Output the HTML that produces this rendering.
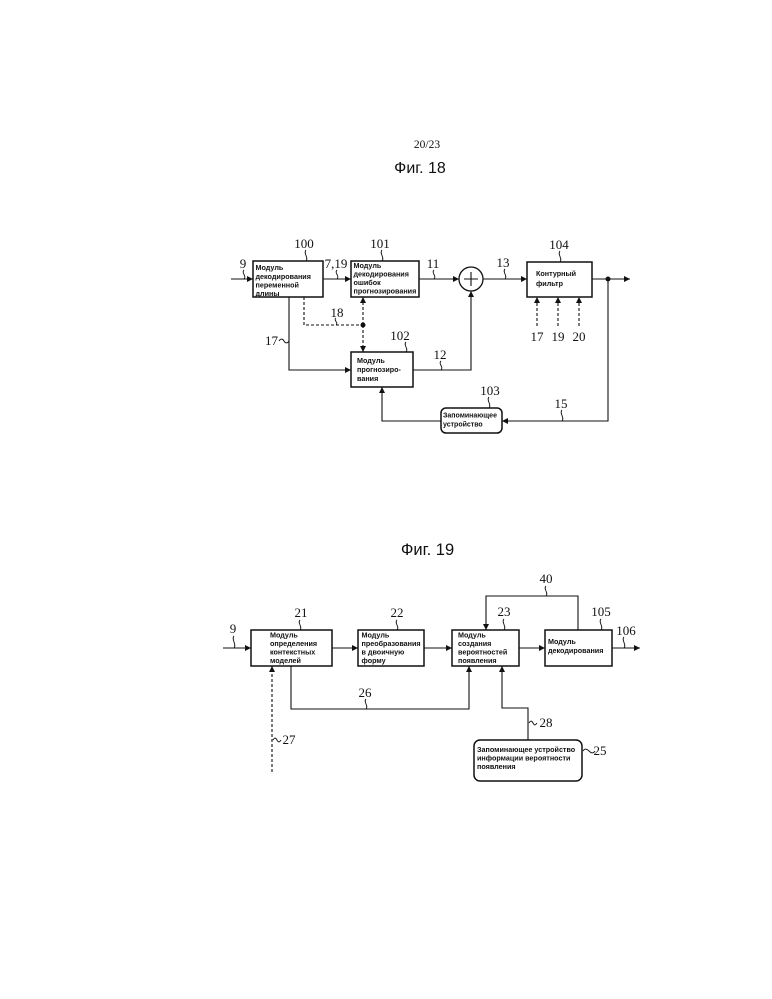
<!DOCTYPE html>
<html>
<head>
<meta charset="utf-8">
<style>
  html,body{margin:0;padding:0;background:#fff;}
  body{width:772px;height:999px;overflow:hidden;}
  svg{display:block;}
  .b{font-family:"Liberation Sans",sans-serif;font-weight:bold;font-size:7.2px;fill:#111;}
  .n{font-family:"Liberation Serif",serif;font-size:13px;fill:#111;text-anchor:middle;}
  .t{font-family:"Liberation Sans",sans-serif;fill:#111;text-anchor:middle;}
  .box{fill:#fff;stroke:#111;stroke-width:1.5;}
  .ln{fill:none;stroke:#111;stroke-width:1.1;}
  .ds{fill:none;stroke:#111;stroke-width:1.1;stroke-dasharray:3,2;}
  .sq{fill:none;stroke:#111;stroke-width:0.9;}
</style>
</head>
<body>
<svg width="772" height="999" viewBox="0 0 772 999" xmlns="http://www.w3.org/2000/svg">
<defs>
  <marker id="a" viewBox="0 0 10 10" refX="10" refY="5" markerWidth="7" markerHeight="6" markerUnits="userSpaceOnUse" orient="auto">
    <path d="M0,0 L10,5 L0,10 z" fill="#111"/>
  </marker>
</defs>

<!-- Header -->
<text x="427" y="148" style="font-family:'Liberation Serif',serif;font-size:11.5px;fill:#111;text-anchor:middle;">20/23</text>
<text x="420" y="173" class="t" style="font-size:16px;">Фиг. 18</text>

<!-- ===== FIG 18 ===== -->
<path class="ln" d="M231 279 H253" marker-end="url(#a)"/>
<text class="n" x="243" y="268">9</text>
<path class="sq" d="M244 270 c-3 3 3 6 0 9"/>

<rect class="box" x="253" y="261" width="70" height="36"/>
<text class="b" x="255.5" y="270">Модуль</text>
<text class="b" x="255.5" y="279">декодирования</text>
<text class="b" x="255.5" y="287.5">переменной</text>
<text class="b" x="255.5" y="296">длины</text>
<text class="n" x="304" y="248">100</text>
<path class="sq" d="M306 250 c-3 3 3 8 0 11"/>

<path class="ln" d="M323 279 H351" marker-end="url(#a)"/>
<text class="n" x="336" y="268">7,19</text>
<path class="sq" d="M337 270 c-3 3 3 6 0 9"/>

<rect class="box" x="351" y="261" width="68" height="36"/>
<text class="b" x="353.5" y="268">Модуль</text>
<text class="b" x="353.5" y="276.5">декодирования</text>
<text class="b" x="353.5" y="285">ошибок</text>
<text class="b" x="353.5" y="293.5">прогнозирования</text>
<text class="n" x="380" y="248">101</text>
<path class="sq" d="M382 250 c-3 3 3 8 0 11"/>

<path class="ln" d="M419 279 H459" marker-end="url(#a)"/>
<text class="n" x="433" y="268">11</text>
<path class="sq" d="M434 270 c-3 3 3 6 0 9"/>

<circle cx="471" cy="279" r="12" fill="#fff" stroke="#111" stroke-width="1.3"/>
<path class="ln" d="M464 279 H478 M471 272 V286"/>

<path class="ln" d="M483 279 H527" marker-end="url(#a)"/>
<text class="n" x="503" y="267">13</text>
<path class="sq" d="M505 269 c-3 3 3 7 0 10"/>

<rect class="box" x="527" y="262" width="65" height="35"/>
<text class="b" x="536" y="276">Контурный</text>
<text class="b" x="536" y="286">фильтр</text>
<text class="n" x="559" y="249">104</text>
<path class="sq" d="M560 251 c-3 3 3 8 0 11"/>

<path class="ln" d="M592 279 H630" marker-end="url(#a)"/>
<circle cx="608" cy="279" r="2.5" fill="#111"/>
<path class="ln" d="M608 279 V421 H502" marker-end="url(#a)"/>
<text class="n" x="561" y="408">15</text>
<path class="sq" d="M562 410 c-3 3 3 8 0 11"/>

<path class="ds" d="M537 326 V297" marker-end="url(#a)"/>
<path class="ds" d="M558 326 V297" marker-end="url(#a)"/>
<path class="ds" d="M579 326 V297" marker-end="url(#a)"/>
<text class="n" x="537" y="341">17</text>
<text class="n" x="558" y="341">19</text>
<text class="n" x="579" y="341">20</text>

<rect class="box" x="441" y="408" width="61" height="25" rx="5" ry="5"/>
<text class="b" x="443" y="417.5" style="font-size:7px;">Запоминающее</text>
<text class="b" x="443" y="426.5" style="font-size:7px;">устройство</text>
<text class="n" x="490" y="395">103</text>
<path class="sq" d="M489 397 c-3 3 3 8 0 11"/>
<path class="ln" d="M441 421 H382 V387" marker-end="url(#a)"/>

<rect class="box" x="351" y="352" width="62" height="35"/>
<text class="b" x="357" y="363">Модуль</text>
<text class="b" x="357" y="372">прогнозиро-</text>
<text class="b" x="357" y="381">вания</text>
<text class="n" x="400" y="340">102</text>
<path class="sq" d="M406 342 c-3 3 3 7 0 10"/>

<path class="ln" d="M413 370 H471 V291" marker-end="url(#a)"/>
<text class="n" x="440" y="359">12</text>
<path class="sq" d="M441 361 c-3 3 3 6 0 9"/>

<path class="ln" d="M289 297 V370 H351" marker-end="url(#a)"/>
<text class="n" x="271.5" y="345">17</text>
<path class="sq" d="M279 341 c2 -3 4 -2 5 0 s3 3 5 0"/>

<path class="ds" d="M304 297 V325 H363"/>
<circle cx="363" cy="325" r="2.5" fill="#111"/>
<path class="ds" d="M363 325 V297" marker-end="url(#a)"/>
<path class="ds" d="M363 325 V352" marker-end="url(#a)"/>
<text class="n" x="337" y="317">18</text>
<path class="sq" d="M336 318 c-3 2 3 5 0 7"/>

<!-- ===== FIG 19 ===== -->
<text x="427.5" y="555" class="t" style="font-size:16.5px;">Фиг. 19</text>

<path class="ln" d="M223 648 H251" marker-end="url(#a)"/>
<text class="n" x="233" y="633">9</text>
<path class="sq" d="M234 636 c-3 3 3 9 0 12"/>

<rect class="box" x="251" y="630" width="81" height="36"/>
<text class="b" x="270" y="637.5">Модуль</text>
<text class="b" x="270" y="646">определения</text>
<text class="b" x="270" y="654.5">контекстных</text>
<text class="b" x="270" y="663">моделей</text>
<text class="n" x="301" y="617">21</text>
<path class="sq" d="M300 620 c-3 3 3 7 0 10"/>

<path class="ln" d="M332 648 H358" marker-end="url(#a)"/>

<rect class="box" x="358" y="630" width="66" height="36"/>
<text class="b" x="361.5" y="637.5">Модуль</text>
<text class="b" x="361.5" y="646">преобразования</text>
<text class="b" x="361.5" y="654.5">в двоичную</text>
<text class="b" x="361.5" y="663">форму</text>
<text class="n" x="397" y="617">22</text>
<path class="sq" d="M397 620 c-3 3 3 7 0 10"/>

<path class="ln" d="M424 648 H452" marker-end="url(#a)"/>

<rect class="box" x="452" y="630" width="67" height="36"/>
<text class="b" x="458" y="637.5">Модуль</text>
<text class="b" x="458" y="646">создания</text>
<text class="b" x="458" y="654.5">вероятностей</text>
<text class="b" x="458" y="663">появления</text>
<text class="n" x="504" y="616">23</text>
<path class="sq" d="M504 619 c-3 3 3 8 0 11"/>

<path class="ln" d="M519 648 H545" marker-end="url(#a)"/>

<rect class="box" x="545" y="630" width="67" height="36"/>
<text class="b" x="548" y="644">Модуль</text>
<text class="b" x="548" y="653">декодирования</text>
<text class="n" x="601" y="616">105</text>
<path class="sq" d="M601 619 c-3 3 3 8 0 11"/>

<path class="ln" d="M612 648 H640" marker-end="url(#a)"/>
<text class="n" x="626" y="635">106</text>
<path class="sq" d="M624 637 c-3 3 3 8 0 11"/>

<path class="ln" d="M578 630 V596 H486 V630" marker-end="url(#a)"/>
<text class="n" x="546" y="583">40</text>
<path class="sq" d="M546 586 c-3 3 3 7 0 10"/>

<path class="ln" d="M291 666 V709 H469 V666" marker-end="url(#a)"/>
<text class="n" x="365" y="697">26</text>
<path class="sq" d="M366 699 c-3 3 3 7 0 10"/>

<path class="ds" d="M272 772 V666" marker-end="url(#a)"/>
<path class="sq" d="M273 740 c2 -3 3 -2 4 0 s2 3 4 0"/>
<text class="n" x="289" y="744">27</text>

<path class="ln" d="M528 740 V708 H502 V666" marker-end="url(#a)"/>
<path class="sq" d="M529 723 c2 -3 3 -2 4 0 s2 3 4 0"/>
<text class="n" x="546" y="727">28</text>

<rect class="box" x="474" y="740" width="108" height="41" rx="6" ry="6"/>
<text class="b" x="477" y="752">Запоминающее устройство</text>
<text class="b" x="477" y="760.5">информации вероятности</text>
<text class="b" x="477" y="769">появления</text>
<path class="sq" d="M583 751 c2 -3 4 -2 6 0 s4 3 6 0"/>
<text class="n" x="600" y="755">25</text>

</svg>
</body>
</html>
